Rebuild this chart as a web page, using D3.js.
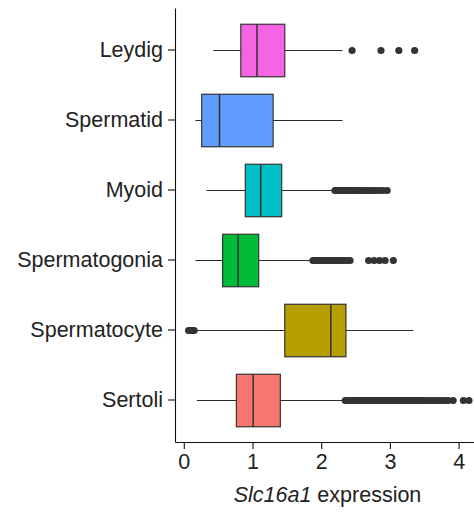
<!DOCTYPE html>
<html>
<head>
<meta charset="utf-8">
<script src="https://cdn.jsdelivr.net/npm/d3@7"></script>
<style>
  body { margin: 0; background: #fff; }
  svg { display: block; font-family: "Liberation Sans", Arial, sans-serif; }
  .axis text { font-size: 21.5px; fill: #222; }
  .axis path, .axis line { stroke: #111; stroke-width: 1.1; }
</style>
</head>
<body>
<svg width="474" height="512"></svg>
<script>
"use strict";

// cell types, top to bottom
const cellTypes = ["Leydig", "Spermatid", "Myoid", "Spermatogonia", "Spermatocyte", "Sertoli"];
const fills = ["#F564E3", "#619CFF", "#00BFC4", "#00BA38", "#B79F00", "#F8766D"];

// box statistics
const whiskerLow  = [0.43, 0.17, 0.33, 0.17, 0.19, 0.19];
const q1          = [0.83, 0.26, 0.895, 0.565, 1.47, 0.765];
const medians     = [1.065, 0.52, 1.12, 0.79, 2.14, 1.01];
const q3          = [1.47, 1.30, 1.425, 1.09, 2.36, 1.405];
const whiskerHigh = [2.31, 2.31, 2.18, 1.84, 3.34, 2.32];

// outliers per cell type
const outLeydig = [2.45, 2.87, 3.13, 3.36];
const outSpermatid = [];
const outMyoid = [2.20, 2.22, 2.24, 2.26, 2.28, 2.30, 2.33, 2.35, 2.38, 2.40, 2.43, 2.46, 2.49,
  2.52, 2.55, 2.58, 2.61, 2.64, 2.68, 2.72, 2.76, 2.80, 2.85, 2.90, 2.96];
const outSpermatogonia = [1.88, 1.90, 1.93, 1.95, 1.98, 2.01, 2.04, 2.07, 2.10, 2.13, 2.16, 2.19,
  2.22, 2.25, 2.28, 2.31, 2.34, 2.38, 2.42, 2.69, 2.77, 2.85, 2.93, 3.05];
const outSpermatocyte = [0.07, 0.09, 0.11, 0.13, 0.15];
const outSertoli = [2.35, 2.38, 2.41, 2.44, 2.47, 2.50, 2.53, 2.56, 2.59, 2.62, 2.65, 2.68, 2.71,
  2.74, 2.77, 2.80, 2.83, 2.86, 2.89, 2.92, 2.95, 2.98, 3.01, 3.04, 3.07, 3.10, 3.13, 3.16, 3.19,
  3.22, 3.25, 3.28, 3.31, 3.34, 3.37, 3.40, 3.43, 3.46, 3.49, 3.52, 3.56, 3.60, 3.64, 3.68, 3.72,
  3.76, 3.80, 3.85, 3.92, 4.07, 4.15];
const outliers = [outLeydig, outSpermatid, outMyoid, outSpermatogonia, outSpermatocyte, outSertoli];

const xTicks = [0, 1, 2, 3, 4];

window.addEventListener("load", draw);

function draw() {
    const svg = d3.select("svg");
    const Plot = {LEFT: 175, RIGHT: 474, TOP: 8, BOTTOM: 442};

    const x = d3.scaleLinear()
        .domain([-0.128, 4.224])
        .range([Plot.LEFT, Plot.RIGHT]);

    const y = d3.scaleBand()
        .domain(cellTypes)
        .range([Plot.TOP, Plot.BOTTOM])
        .paddingInner(0)
        .paddingOuter(0.1);

    const boxH = y.bandwidth() * 0.75;
    const mid = d => y(d) + y.bandwidth() / 2 + 0.5; // half pixel keeps thin lines crisp

    const rows = cellTypes.map((name, i) => ({
        name, fill: fills[i], lo: whiskerLow[i], q1: q1[i], med: medians[i],
        q3: q3[i], hi: whiskerHigh[i], out: outliers[i]
    }));

    const g = svg.append("g");

    // whiskers
    g.selectAll("line.whisker")
        .data(rows)
        .enter()
        .append("line")
        .attr("x1", d => x(d.lo))
        .attr("x2", d => x(d.hi))
        .attr("y1", d => mid(d.name))
        .attr("y2", d => mid(d.name))
        .attr("stroke", "#2b2b2b")
        .attr("stroke-width", 1.2);

    // boxes
    g.selectAll("rect.box")
        .data(rows)
        .enter()
        .append("rect")
        .attr("x", d => x(d.q1))
        .attr("width", d => x(d.q3) - x(d.q1))
        .attr("y", d => mid(d.name) - boxH / 2)
        .attr("height", boxH)
        .attr("fill", d => d.fill)
        .attr("stroke", "#333")
        .attr("stroke-width", 1.2);

    // medians
    g.selectAll("line.median")
        .data(rows)
        .enter()
        .append("line")
        .attr("x1", d => x(d.med))
        .attr("x2", d => x(d.med))
        .attr("y1", d => mid(d.name) - boxH / 2)
        .attr("y2", d => mid(d.name) + boxH / 2)
        .attr("stroke", "#333")
        .attr("stroke-width", 1.5);

    // outliers
    rows.forEach(r => {
        g.selectAll(null)
            .data(r.out)
            .enter()
            .append("circle")
            .attr("cx", v => x(v))
            .attr("cy", mid(r.name))
            .attr("r", 3.6)
            .attr("fill", "#333");
    });

    svg.append("g")
        .attr("class", "axis")
        .attr("transform", `translate(0, ${Plot.BOTTOM})`)
        .call(d3.axisBottom(x).tickValues(xTicks).tickFormat(d3.format("d"))
            .tickSizeInner(7).tickSizeOuter(0).tickPadding(5));

    svg.append("g")
        .attr("class", "axis")
        .attr("transform", `translate(${Plot.LEFT}, 0)`)
        .call(d3.axisLeft(y).tickSizeInner(7).tickSizeOuter(0).tickPadding(5));

    svg.selectAll(".axis .domain").attr("stroke-width", 1.3);

    const title = svg.append("text")
        .attr("x", (Plot.LEFT + Plot.RIGHT) / 2 + 3)
        .attr("y", 502)
        .attr("text-anchor", "middle")
        .attr("font-size", 21.5)
        .attr("fill", "#222");
    title.append("tspan").attr("font-style", "italic").text("Slc16a1");
    title.append("tspan").text(" expression");
}
</script>
</body>
</html>
